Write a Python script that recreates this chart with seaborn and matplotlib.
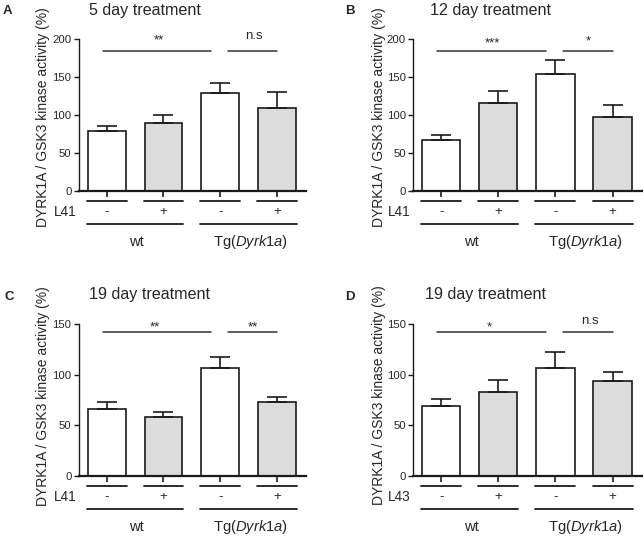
import matplotlib.pyplot as plt
import matplotlib.transforms as mtransforms
import pandas as pd
import seaborn as sns


# -------------------------------------------------------------------
# Data
# -------------------------------------------------------------------

CONDITIONS = ["wt -", "wt +", "Tg -", "Tg +"]
DRUG_SIGNS = ["-", "+", "-", "+"]
GENOTYPES = ["wt", "Tg($\\mathit{Dyrk1a}$)"]

PANEL_LETTERS = ["A", "B", "C", "D"]
TITLES = ["5 day treatment", "12 day treatment", "19 day treatment", "19 day treatment"]
DRUGS = ["L41", "L41", "L41", "L43"]

MEANS_A = [78.0, 88.5, 128.9, 108.5]
SEM_A = [7.0, 11.5, 12.5, 21.5]
MEANS_B = [66.7, 114.9, 153.0, 96.5]
SEM_B = [6.5, 15.8, 19.4, 16.2]
MEANS_C = [66.3, 57.7, 106.8, 73.2]
SEM_C = [6.9, 5.6, 10.6, 4.3]
MEANS_D = [68.9, 82.4, 106.5, 93.6]
SEM_D = [7.3, 12.5, 15.8, 9.3]

SIGNIF = [("**", "n.s"), ("***", "*"), ("**", "**"), ("*", "n.s")]
Y_MAX = [200, 200, 150, 150]


# -------------------------------------------------------------------
# Layout
# -------------------------------------------------------------------

W, H = 644, 537
BAR_COLORS = ["white", "#dcdcdc", "white", "#dcdcdc"]
INK = "#1a1a1a"

# axes rectangles in pixels: left, top, right, bottom
AX_PX = [
    (78.5, 38.7, 305.7, 190.7),
    (412.7, 38.7, 641.7, 190.7),
    (78.5, 324.0, 305.7, 475.7),
    (412.7, 324.0, 641.7, 475.7),
]
TITLE_PX = [(89.3, 10.7), (429.7, 10.7), (89.3, 295.0), (425.3, 295.0)]
LETTER_PX = [(3.0, 10.5), (344.7, 10.5), (4.5, 296.7), (344.7, 296.7)]
YLABEL_PX = [(43.3, 117.5), (378.5, 117.5), (43.3, 396.0), (378.5, 395.0)]

SIG_LINE_Y = [184.2, 184.2, 141.8, 141.8]
SIG_TEXT_Y = [(193.7, 199.0), (189.3, 192.0), (144.1, 144.1), (144.1, 150.0)]
SIG_SPANS = [(-0.07, 1.84), (2.14, 3.01)]
SIG_TEXT_X = [(0.92, 2.6), (0.89, 2.58), (0.85, 2.57), (0.85, 2.6)]

plt.rcParams["mathtext.fontset"] = "custom"
plt.rcParams["mathtext.rm"] = "Liberation Sans"
plt.rcParams["mathtext.it"] = "Liberation Sans:italic"


def draw_panel(ax, i, means, sems):
    df = pd.DataFrame({"condition": CONDITIONS, "value": means})
    sns.barplot(
        data=df,
        x="condition",
        y="value",
        hue="condition",
        order=CONDITIONS,
        palette=dict(zip(CONDITIONS, BAR_COLORS)),
        saturation=1,
        errorbar=None,
        width=0.67,
        edgecolor=INK,
        linewidth=1.2,
        legend=False,
        ax=ax,
    )
    ax.errorbar(
        range(len(means)),
        means,
        yerr=[[0] * len(sems), sems],
        fmt="none",
        ecolor=INK,
        elinewidth=1.2,
        capsize=7,
        capthick=1.2,
    )

    ax.set_xlim(-0.5, 3.51)
    ax.set_ylim(0, Y_MAX[i])
    ax.set_yticks(range(0, Y_MAX[i] + 1, 50))
    ax.set_xticks(range(4))
    ax.set_xticklabels([])
    ax.set_xlabel("")
    ax.set_ylabel("")
    sns.despine(ax=ax)
    ax.spines["left"].set_linewidth(1.0)
    ax.spines["bottom"].set_linewidth(1.6)
    ax.spines["left"].set_color(INK)
    ax.spines["bottom"].set_color(INK)
    ax.tick_params(axis="x", length=4, width=1.2, color=INK)
    ax.tick_params(axis="y", length=3.5, width=1.0, color=INK,
                   labelsize=8.2, pad=1.5)

    # significance bars
    for (x0, x1), label, tx, ty in zip(SIG_SPANS, SIGNIF[i], SIG_TEXT_X[i], SIG_TEXT_Y[i]):
        ax.plot([x0, x1], [SIG_LINE_Y[i]] * 2, color="#333333", lw=1.1,
                clip_on=False)
        ax.text(tx, ty, label, ha="center", va="baseline", fontsize=9.5,
                clip_on=False)

    # treatment / genotype legend below the axis
    trans = mtransforms.blended_transform_factory(ax.transData, ax.transAxes)
    for x, sign in enumerate(DRUG_SIGNS):
        ax.plot([x - 0.35, x + 0.35], [-0.066, -0.066], color=INK, lw=1.3,
                transform=trans, clip_on=False)
        ax.text(x, -0.138, sign, ha="center", va="center", fontsize=9.5,
                transform=trans)
    ax.text(-0.53, -0.138, DRUGS[i], ha="right", va="center", fontsize=9.8,
            transform=trans)
    for g, name in enumerate(GENOTYPES):
        x0, x1 = 2 * g - 0.35, 2 * g + 1 + 0.35
        ax.plot([x0, x1], [-0.219, -0.219], color=INK, lw=1.3,
                transform=trans, clip_on=False)
        ax.text(2 * g + 0.53, -0.338, name, ha="center", va="center",
                fontsize=10.6, transform=trans)


def main():
    sns.set_theme(style="ticks")
    plt.rcParams["font.family"] = ["Liberation Sans", "DejaVu Sans"]

    fig = plt.figure(figsize=(W / 100, H / 100), dpi=100)
    all_means = [MEANS_A, MEANS_B, MEANS_C, MEANS_D]
    all_sems = [SEM_A, SEM_B, SEM_C, SEM_D]

    for i in range(4):
        l, t, r, b = AX_PX[i]
        ax = fig.add_axes([l / W, 1 - b / H, (r - l) / W, (b - t) / H])
        draw_panel(ax, i, all_means[i], all_sems[i])

        tx, ty = TITLE_PX[i]
        fig.text(tx / W, 1 - ty / H, TITLES[i], ha="left", va="center",
                 fontsize=11.6)
        lx, ly = LETTER_PX[i]
        fig.text(lx / W, 1 - ly / H, PANEL_LETTERS[i], ha="left", va="center",
                 fontsize=9.5, fontweight="bold")
        yx, yy = YLABEL_PX[i]
        fig.text(yx / W, 1 - yy / H, "DYRK1A / GSK3 kinase activity (%)",
                 rotation=90, ha="center", va="center", fontsize=10)

    fig.savefig("out.png", dpi=100)


if __name__ == "__main__":
    main()
